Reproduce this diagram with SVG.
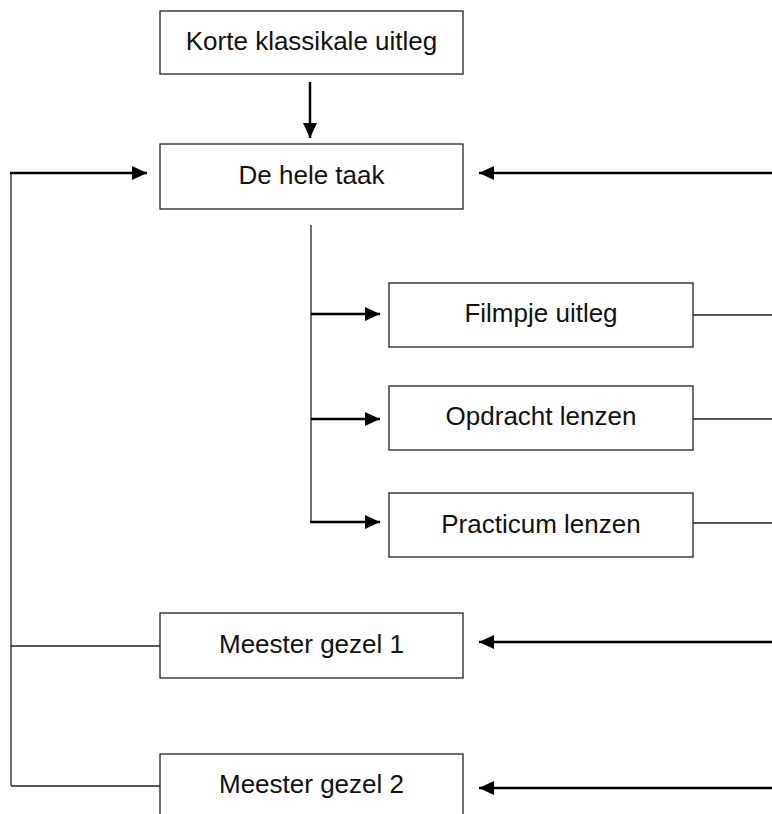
<svg xmlns="http://www.w3.org/2000/svg" width="772" height="814" viewBox="0 0 772 814">
<style>
.box{fill:#fff;stroke:#222;stroke-width:1.3}
.lbl{font-family:"Liberation Sans",Arial,sans-serif;font-size:26px;fill:#111;text-anchor:middle}
.thin{fill:none;stroke:#222;stroke-width:1.3}
.thick{fill:none;stroke:#000;stroke-width:2.5}
</style>
<defs>
<marker id="ah" markerUnits="userSpaceOnUse" markerWidth="16" markerHeight="15" refX="15" refY="7" orient="auto">
<path d="M0,0 L15,7 L0,14 z" fill="#000"/>
</marker>
</defs>
<rect width="772" height="814" fill="#fff"/>
<g id="connectors">
<line class="thick" x1="310" y1="82" x2="310" y2="138" marker-end="url(#ah)"/>
<polyline class="thin" points="11,786 11,173"/>
<line class="thick" x1="10" y1="173" x2="147" y2="173" marker-end="url(#ah)"/>
<line class="thick" x1="772" y1="173" x2="479" y2="173" marker-end="url(#ah)"/>
<line class="thin" x1="311" y1="225" x2="311" y2="523"/>
<line class="thick" x1="311" y1="314" x2="380" y2="314" marker-end="url(#ah)"/>
<line class="thick" x1="311" y1="419" x2="380" y2="419" marker-end="url(#ah)"/>
<line class="thick" x1="310" y1="522" x2="380" y2="522" marker-end="url(#ah)"/>
<line class="thin" x1="693" y1="315" x2="772" y2="315"/>
<line class="thin" x1="693" y1="419" x2="772" y2="419"/>
<line class="thin" x1="693" y1="523" x2="772" y2="523"/>
<line class="thin" x1="11" y1="646" x2="160" y2="646"/>
<line class="thin" x1="11" y1="786" x2="160" y2="786"/>
<line class="thick" x1="772" y1="642" x2="479" y2="642" marker-end="url(#ah)"/>
<line class="thick" x1="772" y1="788" x2="479" y2="788" marker-end="url(#ah)"/>
</g>
<g id="korte">
<rect class="box" x="160" y="11" width="303" height="63"/>
<text class="lbl" x="311.5" y="50">Korte klassikale uitleg</text>
</g>
<g id="hele-taak">
<rect class="box" x="160" y="144" width="303" height="65"/>
<text class="lbl" x="311.5" y="184">De hele taak</text>
</g>
<g id="filmpje">
<rect class="box" x="389" y="283" width="304" height="64"/>
<text class="lbl" x="541" y="322">Filmpje uitleg</text>
</g>
<g id="opdracht">
<rect class="box" x="389" y="386" width="304" height="64"/>
<text class="lbl" x="541" y="425">Opdracht lenzen</text>
</g>
<g id="practicum">
<rect class="box" x="389" y="493" width="304" height="64"/>
<text class="lbl" x="541" y="533">Practicum lenzen</text>
</g>
<g id="meester1">
<rect class="box" x="160" y="613" width="303" height="65"/>
<text class="lbl" x="311.5" y="653">Meester gezel 1</text>
</g>
<g id="meester2">
<rect class="box" x="160" y="754" width="303" height="80"/>
<text class="lbl" x="311.5" y="793">Meester gezel 2</text>
</g>
</svg>
